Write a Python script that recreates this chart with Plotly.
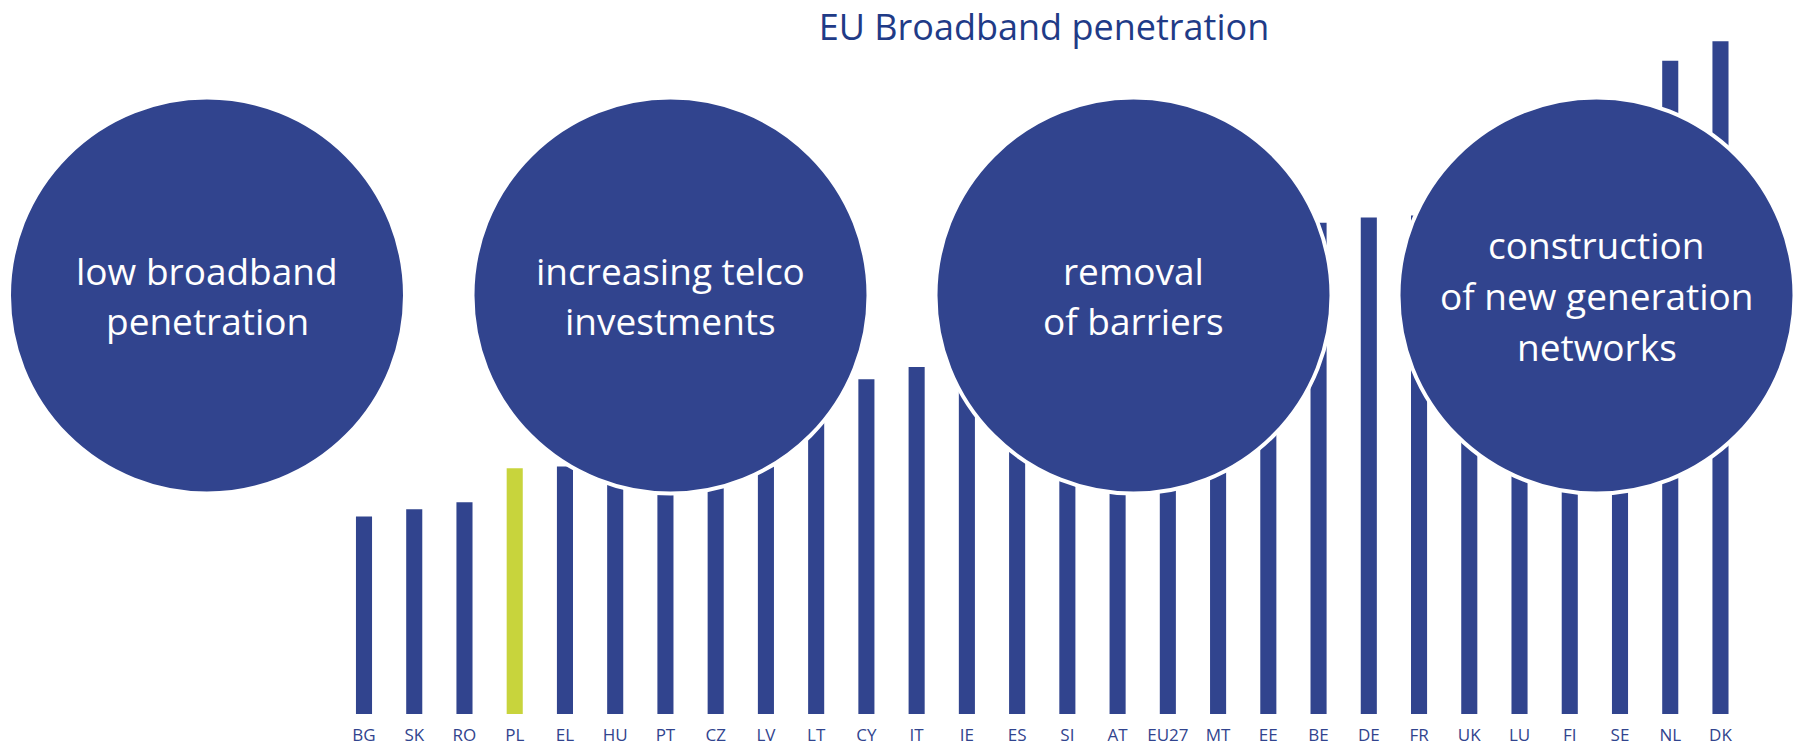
import plotly.graph_objects as go

# ---- data ----
countries = ["BG", "SK", "RO", "PL", "EL", "HU", "PT", "CZ", "LV", "LT",
             "CY", "IT", "IE", "ES", "SI", "AT", "EU27", "MT", "EE", "BE",
             "DE", "FR", "UK", "LU", "FI", "SE", "NL", "DK"]
penetration = [11.1, 11.5, 11.9, 13.8, 13.9, 14.6, 15.6, 16.5, 17.3, 18.2,
               18.8, 19.5, 20.6, 21.6, 22.4, 23.3, 24.1, 25.3, 26.4, 27.6,
               27.9, 28.0, 29.4, 30.8, 31.9, 33.4, 36.7, 37.8]
highlight = "PL"
stages = [["low broadband", "penetration"],
          ["increasing telco", "investments"],
          ["removal", "of barriers"],
          ["construction", "of new generation", "networks"]]
title_text = "EU Broadband penetration"

# ---- style ----
BLUE = "#31448E"
GREEN = "#C8D43C"
TITLE_BLUE = "#1F3B87"
FONT = "Open Sans"

W, H = 1803, 747
MB = 33                      # bottom margin (px)
PLOT_H = H - MB              # plot area height (px)
first_center_px = 364.0
step_px = 50.24
px_per_unit = 17.8

colors = [GREEN if c == highlight else BLUE for c in countries]

fig = go.Figure()
fig.add_trace(go.Bar(
    x=countries, y=penetration, marker=dict(color=colors, line=dict(width=0)),
    width=0.32, hoverinfo="x+y", showlegend=False,
))

# circle layout in pixels
circle_cx = [207.0, 670.5, 1133.5, 1596.5]
circle_cy = 295.5
circle_r = 198.0
line_step = 51.0
text_size = 37


def px_x(p):
    return p / W


def px_y(p):
    return (PLOT_H - p) / PLOT_H


shapes = []
annotations = []
for cx, lines in zip(circle_cx, stages):
    shapes.append(dict(
        type="circle", xref="paper", yref="paper",
        x0=px_x(cx - circle_r), x1=px_x(cx + circle_r),
        y0=px_y(circle_cy + circle_r), y1=px_y(circle_cy - circle_r),
        fillcolor=BLUE, line=dict(color="white", width=4), layer="above",
    ))
    n = len(lines)
    for k, txt in enumerate(lines):
        baseline = circle_cy + 12 + line_step * (k - (n - 1) / 2)
        annotations.append(dict(
            xref="paper", yref="paper", x=px_x(cx), y=px_y(baseline - 12),
            text=txt, showarrow=False, xanchor="center", yanchor="middle",
            align="center", font=dict(family=FONT, size=text_size, color="white"),
        ))

x_min = -first_center_px / step_px
x_max = (W - first_center_px) / step_px

fig.update_layout(
    width=W, height=H,
    margin=dict(l=0, r=0, t=0, b=MB),
    paper_bgcolor="white", plot_bgcolor="white",
    shapes=shapes, annotations=annotations,
    title=dict(text=title_text, x=1044 / W, xanchor="center",
               y=1 - 27 / H, yanchor="middle", yref="container",
               font=dict(family=FONT, size=36, color=TITLE_BLUE)),
    xaxis=dict(type="category", range=[x_min, x_max], showgrid=False,
               zeroline=False, showline=False, ticks="outside", ticklen=6,
               tickcolor="rgba(0,0,0,0)", automargin=False,
               tickfont=dict(family=FONT, size=17, color=BLUE),
               fixedrange=True),
    yaxis=dict(range=[0, PLOT_H / px_per_unit], visible=False,
               showgrid=False, zeroline=False, automargin=False,
               fixedrange=True),
)

fig.write_html(
    "out.html",
    config={"displayModeBar": False},
    post_script="document.body.style.margin='0';document.body.style.overflow='hidden';",
)
